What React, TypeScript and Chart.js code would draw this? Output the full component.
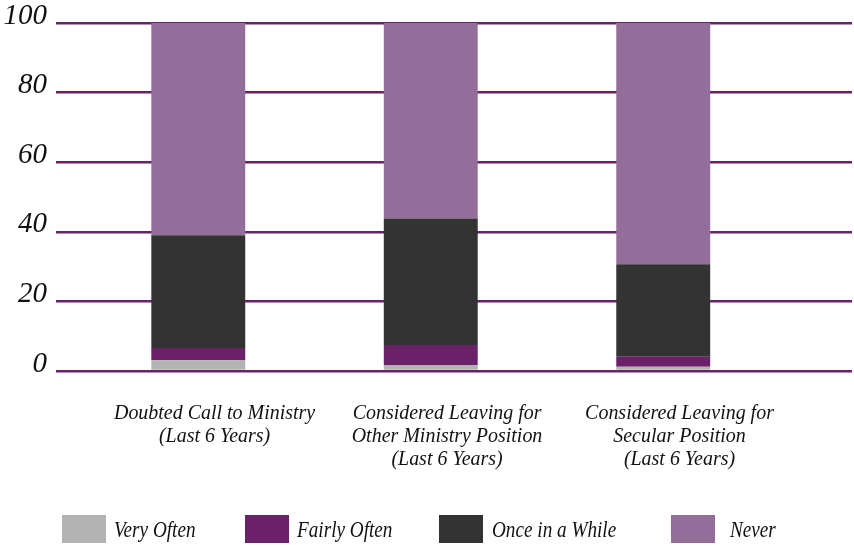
import React, { useEffect, useRef } from "react";
import { Chart, registerables } from "chart.js";

Chart.register(...registerables);

// ---- Data ----
const categories: string[][] = [
  ["Doubted Call to Ministry", "(Last 6 Years)"],
  ["Considered Leaving for", "Other Ministry Position", "(Last 6 Years)"],
  ["Considered Leaving for", "Secular Position", "(Last 6 Years)"],
];
const seriesNames = ["Very Often", "Fairly Often", "Once in a While", "Never"];
const veryOften = [3.1, 1.7, 1.2];
const fairlyOften = [3.5, 5.8, 2.9];
const onceInAWhile = [32.4, 36.3, 26.6];
const never = [61.0, 56.2, 69.3];
const yTicks = [0, 20, 40, 60, 80, 100];

const seriesValues = [veryOften, fairlyOften, onceInAWhile, never];
const seriesColors = ["#b3b3b3", "#6a2169", "#333333", "#946e9b"];

// ---- Layout (styling only) ----
const LABEL_SHIFT = 0.07;
const legendBoxX = [62, 245, 439, 671];
const legendTextX = [114, 297, 492, 730];

function drawCondensed(
  ctx: CanvasRenderingContext2D,
  text: string,
  x: number,
  y: number,
  font: string,
  sx: number,
  align: CanvasTextAlign
) {
  ctx.save();
  ctx.font = font;
  ctx.textAlign = align;
  ctx.textBaseline = "alphabetic";
  ctx.translate(x, y);
  ctx.scale(sx, 1);
  ctx.fillText(text, 0, 0);
  ctx.restore();
}

const overlayPlugin = {
  id: "overlay",
  afterDraw(chart: any) {
    const ctx: CanvasRenderingContext2D = chart.ctx;
    const xs = chart.scales.x;
    const area = chart.chartArea;
    ctx.save();
    ctx.fillStyle = "#111111";
    categories.forEach((lines, i) => {
      const cx = xs.getPixelForValue(i + LABEL_SHIFT);
      lines.forEach((t, k) => {
        drawCondensed(ctx, t, cx, area.bottom + 48 + k * 23, "italic 21px 'Liberation Serif'", 0.95, "center");
      });
    });
    chart.data.datasets.forEach((ds: any, i: number) => {
      ctx.fillStyle = ds.backgroundColor;
      ctx.fillRect(legendBoxX[i], 515, 44, 28);
      ctx.fillStyle = "#111111";
      drawCondensed(ctx, ds.label, legendTextX[i], 537, "italic 24px 'Liberation Serif'", 0.8, "left");
    });
    ctx.restore();
  },
};

export default function App() {
  const ref = useRef<HTMLCanvasElement | null>(null);
  useEffect(() => {
    if (!ref.current) return;
    const chart = new Chart(ref.current, {
      type: "bar",
      data: {
        datasets: seriesNames.map((name, si) => ({
          label: name,
          data: seriesValues[si].map((v, i) => ({ x: i, y: v })),
          backgroundColor: seriesColors[si],
          borderWidth: 0,
          categoryPercentage: 1,
          barPercentage: 0.404,
        })),
      },
      options: {
        responsive: false,
        animation: false,
        devicePixelRatio: 1,
        layout: { padding: { top: 23, right: 2, bottom: 176, left: 0 } },
        plugins: { legend: { display: false }, tooltip: { enabled: false } },
        scales: {
          x: {
            type: "linear",
            stacked: true,
            offset: false,
            bounds: "data",
            min: -0.612,
            max: 2.812,
            display: false,
            afterBuildTicks: (s: any) => {
              s.ticks = categories.map((_, i) => ({ value: i }));
            },
          },
          y: {
            stacked: true,
            min: 0,
            max: 100,
            afterBuildTicks: (s: any) => {
              s.ticks = yTicks.map((v) => ({ value: v }));
            },
            afterFit: (s: any) => {
              s.width = 56;
              s.paddingTop = 0;
              s.paddingBottom = 0;
            },
            border: { display: false },
            grid: { color: "#6b206b", lineWidth: 2.5, drawTicks: false },
            ticks: {
              color: "#111111",
              padding: 9,
              labelOffset: -7,
              font: { family: "'Liberation Serif'", style: "italic", size: 29 },
            },
          },
        },
      },
      plugins: [overlayPlugin],
    } as any);
    return () => chart.destroy();
  }, []);
  return (
    <div style={{ position: "absolute", left: 0, top: 0, width: 854, height: 547, background: "#fff" }}>
      <canvas ref={ref} width={854} height={547} style={{ display: "block" }} />
    </div>
  );
}
